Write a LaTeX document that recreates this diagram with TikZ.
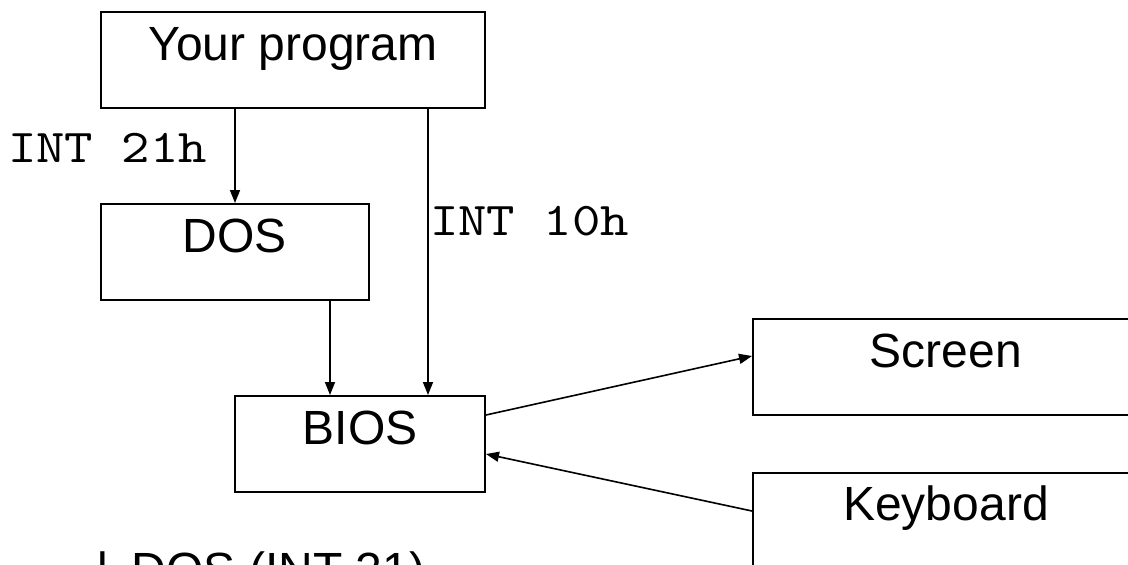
\documentclass[tikz,border=0pt]{standalone}
\usepackage{fontspec}
\setmainfont{Liberation Sans}
\newfontfamily\codefont[FakeStretch=1.15]{lmmono10-regular.otf}
\usetikzlibrary{arrows.meta}
\begin{document}
\begin{tikzpicture}[x=1pt,y=-1pt,
  box/.style={draw, line width=2pt, minimum width=#1, minimum height=96pt, inner sep=0pt, anchor=north west},
  lbl/.style={anchor=base, inner sep=0pt, font=\fontsize{48}{56}\selectfont},
  code/.style={anchor=base west, inner sep=0pt, font=\codefont\fontsize{47}{55}\selectfont},
  arr/.style={line width=1.6pt, -{Triangle[length=13pt,width=10pt]}}]
\useasboundingbox (0,0) rectangle (1128,565);
\clip (0,0) rectangle (1128,565);
% boxes
\node[box=384pt] (prog) at (100,11) {};
\node[box=268pt] (dos) at (100,203) {};
\node[box=250pt] (bios) at (234,395) {};
\node[box=386pt] (screen) at (752,318) {};
\node[box=386pt] (kbd) at (752,472) {};
% box texts
\node[lbl] (progt) at ([yshift=-49pt]prog.north) {Your program};
\node[lbl] (dost) at ([yshift=-49pt]dos.north) {DOS};
\node[lbl] (biost) at ([yshift=-49pt]bios.north) {BIOS};
\node[lbl] (screent) at ([yshift=-49pt]screen.north) {Screen};
\node[lbl] (kbdt) at ([yshift=-48pt]kbd.north) {Keyboard};
% connectors
\coordinate (b1) at ([xshift=-58pt]bios.north east);
\coordinate (b2) at ([xshift=96pt]bios.north west);
\draw[arr] (prog.south -| dos.north) -- (dos.north);
\draw[arr] (prog.south -| b1) -- (b1);
\draw[arr] (dos.south -| b2) -- (b2);
\draw[arr] ([yshift=29pt]bios.east) -- ([yshift=11pt]screen.west);
\draw[arr] ([yshift=10pt]kbd.west) -- ([yshift=-10pt]bios.east);
% code labels
\node[code] (int21) at (8,162) {INT 21h};
\node[code] (int10) at (430,235) {INT 10h};
% bottom bullet line (cut off in the reference)
\node[anchor=base west, inner sep=0pt, font=\fontsize{48}{56}\selectfont] (bullet) at (97,586) {l\hspace{0.5em}DOS (INT 21)};
\end{tikzpicture}
\end{document}
